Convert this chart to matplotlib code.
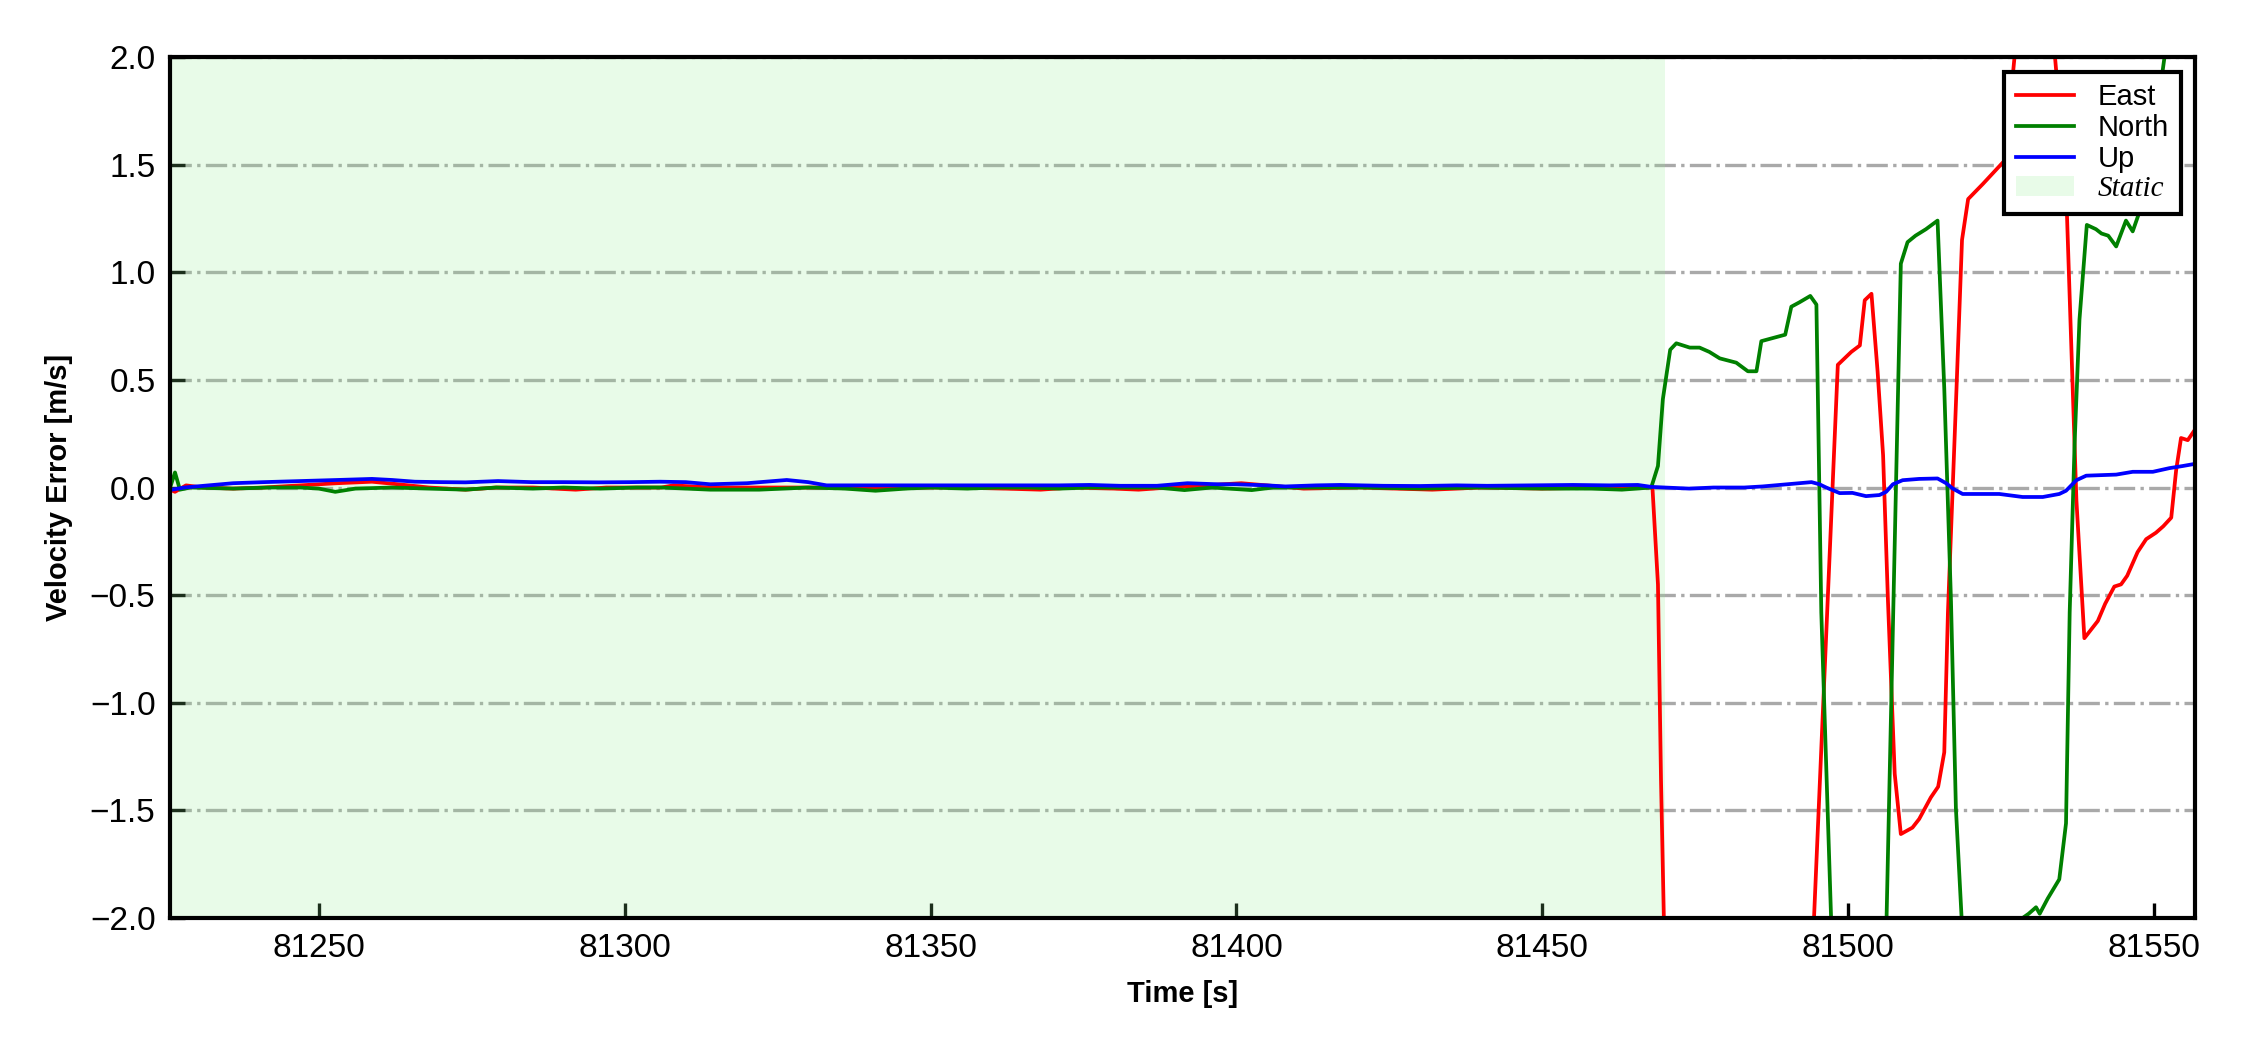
import matplotlib.pyplot as plt

plt.rcParams['font.family'] = ['Liberation Sans', 'DejaVu Sans']

# 数据 (time in s, velocity error in m/s)
east_t = [81225.7, 81226.5, 81228.3, 81231, 81236, 81241, 81247, 81253, 81258.7, 81263,
          81268, 81274, 81279, 81285, 81292, 81297, 81301, 81306, 81308, 81314,
          81319, 81325, 81333, 81338, 81342, 81349, 81355, 81362, 81368, 81373,
          81380, 81384, 81389, 81400.8, 81411, 81420, 81432, 81440, 81450, 81459,
          81465.6, 81468, 81468.9, 81469.4, 81470.3, 81480, 81493.5, 81498.3, 81500.5, 81501.9,
          81502.7, 81503.8, 81504.8, 81505.7, 81506.5, 81507.6, 81508.6, 81510.5, 81511.6, 81513.5,
          81514.7, 81515.7, 81516.3, 81517.7, 81518.6, 81519.6, 81522.0, 81525.6, 81528.5, 81531,
          81533.8, 81535.6, 81537.3, 81538.6, 81540.8, 81542, 81543.5, 81544.6, 81545.6, 81547.3,
          81548.7, 81550.3, 81551.5, 81552.8, 81553.6, 81554.4, 81555.5, 81556.7]
east_v = [-0.01, -0.02, 0.01, 0.0, -0.005, 0.0, 0.01, 0.02, 0.027, 0.015,
          0.0, -0.01, 0.0, 0.0, -0.01, 0.0, 0.0, 0.0, 0.01, 0.0,
          0.0, 0.0, 0.0, 0.0, -0.005, 0.0, 0.0, -0.005, -0.01, 0.0,
          -0.005, -0.01, 0.0, 0.02, -0.005, 0.0, -0.01, 0.0, -0.005, 0.0,
          0.0, 0.0, -0.45, -1.36, -2.6, -3.2, -2.6, 0.57, 0.63, 0.66,
          0.87, 0.9, 0.54, 0.15, -0.53, -1.33, -1.61, -1.58, -1.54, -1.44,
          -1.39, -1.23, -0.58, 0.46, 1.15, 1.34, 1.41, 1.52, 2.4, 2.6,
          2.0, 1.4, -0.06, -0.70, -0.62, -0.54, -0.46, -0.45, -0.41, -0.3,
          -0.24, -0.21, -0.18, -0.14, 0.08, 0.23, 0.22, 0.27]

north_t = [81225.7, 81226.5, 81227.3, 81229, 81236, 81242, 81247, 81250, 81252.7, 81256,
           81262, 81268, 81274, 81279, 81285, 81290, 81296, 81302, 81306, 81310,
           81314, 81322, 81330, 81336, 81341, 81346, 81350, 81356, 81361, 81366,
           81371, 81376, 81382, 81387, 81391.5, 81396, 81402.5, 81406, 81412, 81421,
           81430, 81440, 81450, 81458, 81463, 81467.8, 81468.9, 81469.7, 81470.9, 81471.9,
           81474.1, 81475.7, 81477.3, 81479.0, 81481.7, 81483.6, 81485.0, 81485.8, 81487.1, 81489.7,
           81490.7, 81492.0, 81493.8, 81494.8, 81495.6, 81499, 81503, 81505.5, 81508.6, 81509.7,
           81511, 81512.7, 81514.6, 81515.7, 81516.8, 81517.6, 81520, 81524, 81528.5, 81529.5,
           81530.7, 81531.3, 81532.6, 81534.5, 81535.6, 81536.2, 81537.0, 81537.8, 81539.0, 81540.5,
           81541.4, 81542.5, 81543.8, 81545.4, 81546.5, 81547.6, 81549, 81550.5, 81551.7, 81553,
           81556.7]
north_v = [0.0, 0.07, -0.01, 0.0, -0.005, 0.0, 0.0, -0.005, -0.02, -0.005,
           0.0, -0.005, -0.01, 0.0, -0.005, 0.0, -0.005, 0.0, 0.0, -0.005,
           -0.01, -0.01, 0.0, -0.005, -0.015, -0.005, 0.0, -0.005, 0.0, 0.0,
           -0.005, 0.0, 0.0, 0.0, -0.012, 0.0, -0.012, 0.0, 0.0, 0.0,
           -0.005, 0.0, -0.005, -0.005, -0.01, 0.0, 0.1, 0.41, 0.64, 0.67,
           0.65, 0.65, 0.63, 0.6, 0.58, 0.54, 0.54, 0.68, 0.69, 0.71,
           0.84, 0.86, 0.89, 0.85, -0.58, -3.6, -3.5, -3.0, 1.04, 1.14,
           1.17, 1.2, 1.24, 0.46, -0.53, -1.49, -2.8, -2.5, -2.0, -1.98,
           -1.95, -1.98, -1.91, -1.82, -1.56, -0.58, 0.2, 0.78, 1.22, 1.2,
           1.18, 1.17, 1.12, 1.24, 1.19, 1.28, 1.45, 1.75, 2.0, 2.3,
           2.6]

up_t = [81225.7, 81226, 81228, 81230, 81236, 81241, 81247, 81253, 81258.7, 81262,
        81265.7, 81270, 81274, 81279.3, 81284.8, 81290, 81295.7, 81301, 81305.8, 81310,
        81314, 81320, 81326.5, 81330, 81333, 81338, 81344, 81350, 81355, 81360,
        81366, 81371, 81376, 81381, 81387, 81392, 81397, 81400, 81405, 81408,
        81413, 81417, 81424, 81430, 81436, 81441, 81448, 81455, 81461, 81465.6,
        81467.8, 81470, 81474, 81478, 81483, 81486, 81490, 81494, 81495.3, 81496.4,
        81498.6, 81500.7, 81502.9, 81505.1, 81506.2, 81507.3, 81508.9, 81511.6, 81514.6, 81516.0,
        81517.1, 81518.7, 81522.5, 81524.7, 81528.5, 81531.8, 81534.5, 81535.6, 81537.3, 81538.9,
        81543.8, 81546.5, 81549.8, 81552.5, 81554.7, 81556.7]
up_v = [-0.01, -0.01, 0.0, 0.005, 0.02, 0.025, 0.03, 0.035, 0.04, 0.035,
        0.027, 0.025, 0.024, 0.03, 0.025, 0.025, 0.024, 0.025, 0.027, 0.025,
        0.015, 0.02, 0.035, 0.025, 0.01, 0.01, 0.01, 0.01, 0.01, 0.01,
        0.01, 0.01, 0.012, 0.008, 0.008, 0.02, 0.015, 0.015, 0.01, 0.005,
        0.01, 0.012, 0.008, 0.007, 0.01, 0.008, 0.01, 0.012, 0.01, 0.012,
        0.003, 0.0, -0.005, 0.0, 0.0, 0.005, 0.015, 0.025, 0.015, 0.0,
        -0.026, -0.025, -0.04, -0.035, -0.02, 0.015, 0.034, 0.04, 0.042, 0.02,
        -0.005, -0.03, -0.03, -0.03, -0.044, -0.044, -0.03, -0.015, 0.034, 0.055,
        0.06, 0.073, 0.073, 0.09, 0.1, 0.11]

static_start = 81225.7
static_end = 81470.0

fig, ax = plt.subplots(figsize=(7.5, 3.5), dpi=300)
fig.subplots_adjust(left=0.0756, right=0.9756, top=0.9457, bottom=0.1257)

ax.plot(east_t, east_v, color='red', lw=0.9, label='East')
ax.plot(north_t, north_v, color='green', lw=0.9, label='North')
ax.plot(up_t, up_v, color='blue', lw=0.9, label='Up')
ax.axvspan(static_start, static_end, color='lightgreen', alpha=0.2, lw=0, label='Static')

ax.set_xlim(81225.7, 81556.7)
ax.set_ylim(-2, 2)
ax.set_xticks([81250, 81300, 81350, 81400, 81450, 81500, 81550])
ax.set_yticks([-2.0, -1.5, -1.0, -0.5, 0.0, 0.5, 1.0, 1.5, 2.0])
ax.yaxis.grid(True, color='darkgray', linestyle='-.', linewidth=0.8)
ax.set_axisbelow(True)

ax.tick_params(direction='in', length=3.5, width=0.8, labelsize=8)
for s in ax.spines.values():
    s.set_linewidth(1.0)

ax.set_xlabel('Time [s]', fontsize=7, fontweight='bold')
ax.set_ylabel('Velocity Error [m/s]', fontsize=7, fontweight='bold')

leg = ax.legend(loc='upper right', fontsize=7, fancybox=False, framealpha=1,
                edgecolor='black', labelspacing=0.1, borderpad=0.4,
                handlelength=2.0)
leg.get_frame().set_linewidth(1.0)
st = leg.get_texts()[3]
st.set_fontfamily(['Liberation Serif', 'DejaVu Serif'])
st.set_fontstyle('italic')

plt.savefig('out.png', dpi=300)
